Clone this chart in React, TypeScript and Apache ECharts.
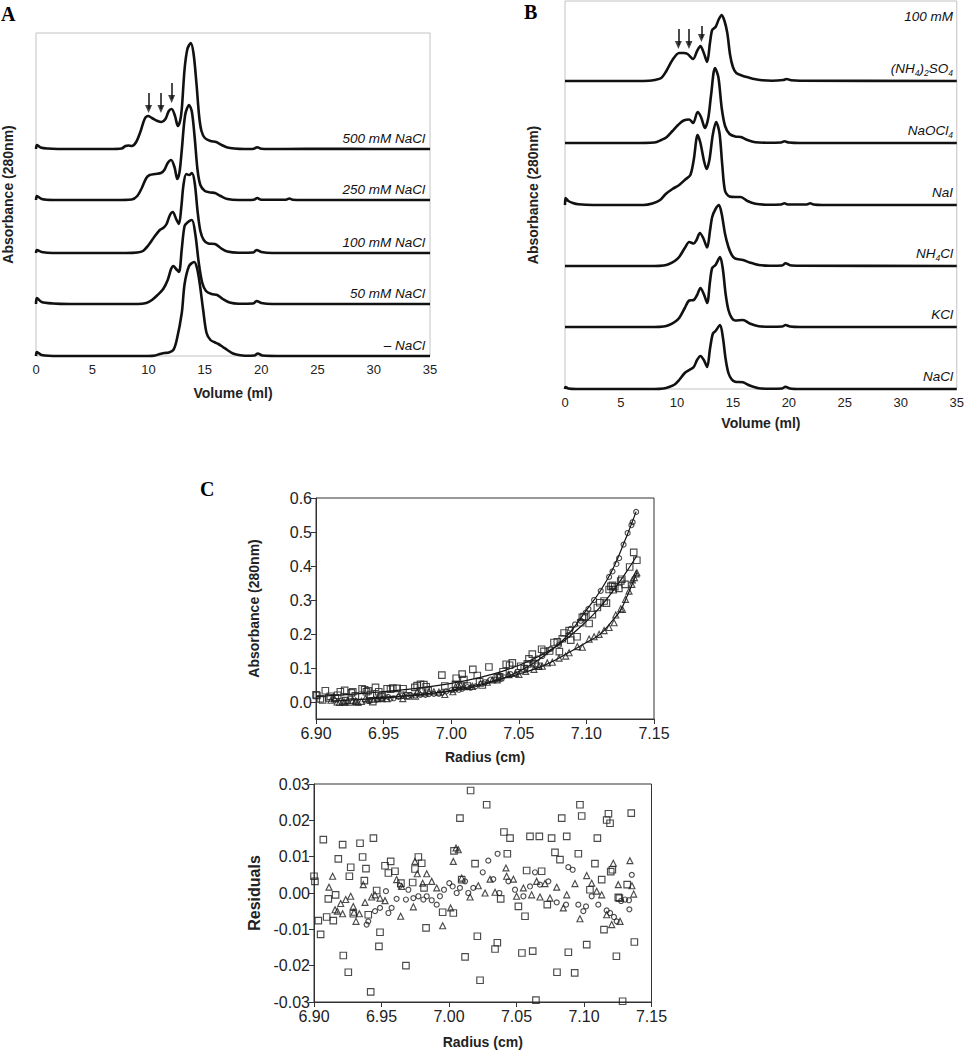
import React, { useEffect, useRef } from 'react';
import * as echarts from 'echarts';

const FONT = '"Liberation Sans", Arial, Helvetica, sans-serif';
const SERIF = '"Liberation Serif", "Times New Roman", serif';

// ---------- Panel A: SEC traces (absorbance, arbitrary units) ----------
const A_LABELS = ['500 mM NaCl', '250 mM NaCl', '100 mM NaCl', '50 mM NaCl', '– NaCl'];
const A_OFFSETS = [207, 156, 103, 52, 0];
const A_500 = [[0,0],[0.08,4],[0.4,1.5],[1,0.5],[3,0],[6.5,0],[7.6,0.5],[7.95,3],[8.2,3.5],[8.5,3],[8.9,7],[9.3,18],[9.65,30],[9.95,33],[10.3,31],[10.8,28],[11.15,27],[11.5,30],[11.8,38],[12.05,40],[12.35,33],[12.6,23],[12.8,28],[12.95,40],[13.2,80],[13.45,100],[13.75,106],[14.0,95],[14.25,66],[14.5,32],[14.7,18],[15.0,11],[15.5,8],[16.0,7],[16.5,4],[17.0,1.5],[17.6,0.5],[18.5,0],[19.35,0.3],[19.65,1.8],[20.0,0.3],[22,0],[26,0.3],[30,0],[35,0]];
const A_250 = [[0,0],[0.08,4],[0.5,1],[1.5,0],[7,0],[8.5,0.5],[9.0,4],[9.4,12],[9.8,22],[10.1,25],[10.6,26],[11.1,27],[11.4,30],[11.7,37],[12.0,40],[12.3,33],[12.55,21],[12.75,28],[12.95,50],[13.25,85],[13.6,95],[13.85,88],[14.1,62],[14.35,30],[14.6,15],[15.0,9],[15.5,7.5],[15.9,7],[16.4,4],[17.0,1],[18,0],[19.35,0.3],[19.65,2],[20.0,0.3],[22.2,0.3],[22.5,1.5],[22.8,0.3],[25,0],[35,0]];
const A_100 = [[0,0],[0.08,3],[0.5,1],[1.5,0],[8,0],[9.0,0.5],[9.5,2],[10.0,8],[10.5,16],[11.0,23],[11.3,25],[11.6,29],[11.9,38],[12.15,41],[12.45,34],[12.7,29],[12.9,45],[13.1,68],[13.35,79],[13.6,78],[13.85,80],[14.1,70],[14.35,42],[14.6,22],[14.9,13],[15.3,9.5],[15.9,9],[16.4,5],[17.0,1.5],[18,0.3],[19.3,0.5],[19.6,3],[20.0,1],[21,0],[35,0]];
const A_50 = [[0,0],[0.08,6],[0.5,2],[1.5,0.5],[3,0],[9,0],[9.8,1],[10.3,4],[10.8,9],[11.3,15],[11.7,24],[12.0,35],[12.2,38],[12.45,35],[12.7,32],[12.95,55],[13.2,78],[13.5,82],[13.85,84],[14.15,70],[14.45,42],[14.75,22],[15.1,13],[15.6,10],[16.1,9],[16.6,5],[17.2,1.5],[18,0.3],[19.3,0.5],[19.6,3],[20,1],[21,0],[35,0]];
const A_NONE = [[0,0],[0.08,4],[0.5,1],[2,0],[10,0],[10.6,0.5],[11.0,2],[11.4,3],[11.8,3.5],[12.2,6],[12.5,16],[12.95,43],[13.2,72],[13.6,90],[14.05,94],[14.3,88],[14.55,72],[14.85,46],[15.15,23],[15.5,16],[15.9,13.5],[16.2,12],[16.6,9],[17.0,6],[17.5,2.5],[18.0,1],[18.6,0.3],[19.4,0.5],[19.7,2.5],[20.1,0.5],[22,0],[35,0]];
const A_TRACES = [A_500, A_250, A_100, A_50, A_NONE];
const A_ARROWS = [[10.0, 263, 247], [11.1, 263, 247], [12.05, 273, 257]];

// ---------- Panel B ----------
const B_LABELS = ['{t|(NH}{s|4}{t|)}{s|2}{t|SO}{s|4}', '{t|NaOCl}{s|4}', '{t|NaI}', '{t|NH}{s|4}{t|Cl}', '{t|KCl}', '{t|NaCl}'];
const B_OFFSETS = [308, 246, 184, 123, 62, 0];
const B_NH42SO4 = [[0,0],[5,0],[7.5,0.3],[8.0,1],[8.6,3],[9.0,9],[9.6,21],[10.2,28],[10.6,28],[10.95,27],[11.45,22],[11.8,30],[12.1,35],[12.4,28],[12.7,19],[12.95,38],[13.15,51],[13.45,54],[13.75,62],[14.0,66],[14.25,60],[14.5,48],[14.75,26],[15.0,14],[15.3,8],[15.9,5],[16.4,3.5],[16.9,2],[17.6,0.8],[18.5,0.3],[19.5,1],[19.8,2],[20.2,0.8],[21,0.3],[35,0]];
const B_NAOCL4 = [[0,0],[6,0],[8.0,0.5],[8.6,3],[9.1,6],[9.6,12],[10.1,18],[10.6,22.5],[11.1,23.5],[11.45,20],[11.85,31],[12.15,26],[12.5,15],[12.8,25],[13.05,48],[13.4,75],[13.7,66],[14.0,35],[14.3,17],[14.7,9],[15.2,6.5],[15.7,6],[16.3,3],[17.0,0.8],[18,0.3],[19.3,0.5],[19.6,1.7],[20,0.5],[21,0],[35,0]];
const B_NAI = [[0,0],[0.05,7],[0.3,4],[0.7,2],[1.2,0.7],[2.5,0],[7,0],[7.8,1.5],[8.5,5],[9.0,11],[9.6,16],[10.2,20],[10.8,26],[11.2,30],[11.5,45],[11.85,70],[12.1,62],[12.4,45],[12.65,36],[12.9,45],[13.2,70],[13.5,83],[13.8,72],[14.05,40],[14.3,14],[14.7,8.5],[15.2,8],[15.7,8],[16.3,4],[17.0,1.2],[18,0.3],[19.3,0.5],[19.6,1.7],[19.9,0.5],[21.6,0.5],[21.9,1.7],[22.2,0.5],[23,0],[35,0]];
const B_NH4CL = [[0,0],[8,0],[8.8,0.5],[9.3,2],[9.8,5],[10.2,9],[10.7,18],[11.1,24],[11.5,22.5],[11.75,26],[12.05,33],[12.35,28],[12.7,18.5],[12.95,35],[13.15,49],[13.45,57],[13.75,61],[14.0,52],[14.3,32],[14.6,19],[14.9,11],[15.2,7.5],[15.9,6],[16.5,3.5],[17.3,1],[18.3,0.3],[19.4,0.5],[19.7,2.7],[20.1,0.8],[21,0.3],[35,0]];
const B_KCL = [[0,0],[8,0],[8.8,0.5],[9.3,2],[9.8,5],[10.2,9],[10.7,19],[11.1,26.5],[11.5,27],[11.8,32],[12.1,39],[12.4,33],[12.7,24],[12.95,45],[13.15,59],[13.45,62],[13.85,70],[14.1,58],[14.35,33],[14.6,17],[14.9,9],[15.2,6.5],[15.9,7],[16.5,3.5],[17.3,0.8],[18.3,0.3],[19.4,0.5],[19.7,2],[20.1,0.5],[21,0],[35,0]];
const B_NACL = [[0,0],[0.05,2],[0.3,0.5],[1,0],[8,0],[8.8,0.5],[9.3,2],[9.8,4.5],[10.2,9],[10.7,16],[11.1,19],[11.5,22],[11.8,29],[12.1,33],[12.4,29],[12.7,22],[12.95,40],[13.2,55],[13.45,58],[13.85,64],[14.1,52],[14.35,30],[14.6,16],[14.9,9.5],[15.2,7.3],[15.9,6.7],[16.5,3.5],[17.3,0.8],[18.3,0.3],[19.4,0.5],[19.7,2.3],[20.1,0.5],[21,0],[35,0]];
const B_TRACES = [B_NH42SO4, B_NAOCL4, B_NAI, B_NH4CL, B_KCL, B_NACL];
const B_ARROWS = [[10.13, 360, 344], [11.07, 360, 344], [12.19, 363, 351]];

// ---------- Panel C: sedimentation equilibrium ----------
const C_TOP_TICKS = [0, 0.1, 0.2, 0.3, 0.4, 0.5, 0.6];
const TOP_CIRCLES = [[6.939,0.003],[6.9402,0.004],[6.9452,0.008],[6.9489,0.010],[6.9533,0.015],[6.9551,0.010],[6.9575,0.011],[6.9612,0.015],[6.9637,0.019],[6.9681,0.017],[6.9699,0.020],[6.9736,0.019],[6.9773,0.021],[6.981,0.021],[6.9835,0.023],[6.9872,0.024],[6.9909,0.024],[6.9933,0.028],[6.9963,0.031],[7.0002,0.035],[7.0027,0.036],[7.0057,0.036],[7.0081,0.039],[7.0119,0.044],[7.0143,0.042],[7.018,0.046],[7.025,0.058],[7.0291,0.066],[7.0328,0.066],[7.036,0.077],[7.0373,0.068],[7.044,0.082],[7.0489,0.089],[7.0551,0.100],[7.06,0.114],[7.0637,0.128],[7.0674,0.135],[7.0736,0.156],[7.0798,0.168],[7.0867,0.197],[7.0884,0.215],[7.0916,0.228],[7.0958,0.239],[7.0995,0.263],[7.1015,0.274],[7.1057,0.300],[7.1106,0.327],[7.1168,0.368],[7.1193,0.384],[7.1222,0.406],[7.1242,0.423],[7.1275,0.463],[7.1305,0.497],[7.1333,0.520],[7.1342,0.529],[7.1368,0.559]];
const TOP_SQUARES = [[6.9000,0.021],[6.9007,0.019],[6.9069,0.033],[6.9032,0.009],[6.9049,0.006],[6.9094,0.012],[6.9106,0.017],[6.9143,0.012],[6.9160,0.020],[6.9180,0.030],[6.9212,0.034],[6.9217,0.004],[6.9254,0.000],[6.9272,0.030],[6.9262,0.027],[6.9291,0.018],[6.9341,0.039],[6.9360,0.036],[6.9385,0.033],[6.9373,0.030],[6.9402,0.022],[6.9420,0.001],[6.9440,0.043],[6.9464,0.030],[6.9489,0.019],[6.9481,0.015],[6.9526,0.039],[6.9568,0.041],[6.9551,0.038],[6.9600,0.040],[6.9644,0.039],[6.9681,0.018],[6.9731,0.043],[6.9748,0.048],[6.9773,0.052],[6.9798,0.051],[6.9815,0.045],[6.9830,0.034],[6.9931,0.079],[6.9953,0.047],[7.0032,0.052],[7.0037,0.070],[7.0081,0.082],[7.0094,0.066],[7.0119,0.047],[7.0160,0.096],[7.0193,0.078],[7.0210,0.060],[7.0230,0.050],[7.0279,0.103],[7.0341,0.071],[7.0358,0.074],[7.0383,0.089],[7.0407,0.111],[7.0432,0.108],[7.0452,0.115],[7.0514,0.105],[7.0540,0.098],[7.0563,0.112],[7.0575,0.127],[7.0600,0.141],[7.0620,0.113],[7.0644,0.105],[7.0669,0.155],[7.0686,0.149],[7.0728,0.150],[7.0760,0.175],[7.0785,0.177],[7.0800,0.148],[7.0822,0.186],[7.0835,0.203],[7.0872,0.210],[7.0884,0.182],[7.0931,0.192],[7.0958,0.233],[7.0970,0.249],[7.0983,0.251],[7.1020,0.231],[7.1044,0.257],[7.1081,0.278],[7.1099,0.292],[7.1131,0.297],[7.1148,0.291],[7.1168,0.331],[7.1181,0.340],[7.1193,0.343],[7.1198,0.330],[7.1210,0.339],[7.1240,0.334],[7.1254,0.356],[7.1262,0.361],[7.1286,0.346],[7.1320,0.397],[7.1350,0.440],[7.1373,0.417]];
const TOP_TRIANGLES = [[6.9111,0.005],[6.9138,0.009],[6.9156,0.000],[6.9173,-0.001],[6.9198,0.002],[6.9212,-0.001],[6.9235,0.004],[6.9272,0.005],[6.9291,0.003],[6.9296,0.002],[6.9311,-0.001],[6.9336,0.002],[6.9365,0.010],[6.9378,0.006],[6.9427,0.008],[6.9452,0.010],[6.9489,0.010],[6.9526,0.010],[6.9612,0.019],[6.9642,0.010],[6.9649,0.019],[6.9736,0.017],[6.9748,0.030],[6.9765,0.027],[6.9805,0.027],[6.9835,0.030],[6.9872,0.030],[6.9909,0.029],[6.9953,0.022],[7.0012,0.030],[7.0032,0.045],[7.0052,0.050],[7.0069,0.051],[7.0094,0.045],[7.0156,0.046],[7.0217,0.055],[7.0267,0.058],[7.0304,0.065],[7.0341,0.065],[7.0422,0.081],[7.0427,0.080],[7.0477,0.084],[7.0501,0.081],[7.0551,0.090],[7.0612,0.096],[7.0649,0.105],[7.0674,0.105],[7.0711,0.115],[7.0748,0.117],[7.0798,0.129],[7.0847,0.135],[7.0872,0.145],[7.0933,0.163],[7.0970,0.161],[7.1020,0.185],[7.1057,0.192],[7.1094,0.199],[7.1131,0.210],[7.1168,0.219],[7.1205,0.233],[7.1217,0.256],[7.1254,0.274],[7.1267,0.272],[7.1289,0.302],[7.1315,0.326],[7.1336,0.346],[7.1340,0.359],[7.1355,0.366],[7.1368,0.377],[7.1373,0.380]];
const FIT_CIRCLES = [[6.939,0.012],[6.96,0.016],[6.98,0.023],[7.00,0.032],[7.02,0.047],[7.04,0.072],[7.06,0.112],[7.08,0.172],[7.09,0.215],[7.10,0.270],[7.11,0.325],[7.12,0.395],[7.13,0.490],[7.1368,0.560]];
const FIT_SQUARES = [[6.90,0.016],[6.92,0.021],[6.94,0.027],[6.96,0.034],[6.98,0.043],[7.00,0.055],[7.02,0.071],[7.04,0.093],[7.06,0.125],[7.08,0.170],[7.10,0.237],[7.11,0.278],[7.12,0.328],[7.13,0.385],[7.1373,0.430]];
const FIT_TRIANGLES = [[6.911,0.003],[6.93,0.007],[6.95,0.0115],[6.97,0.019],[6.99,0.028],[7.01,0.042],[7.03,0.061],[7.05,0.082],[7.07,0.110],[7.09,0.152],[7.10,0.175],[7.11,0.199],[7.12,0.243],[7.125,0.268],[7.13,0.310],[7.1373,0.380]];

const RES_SQUARES = [[6.9000,0.0046],[6.9007,0.0032],[6.9069,0.0147],[6.9032,-0.0076],[6.9049,-0.0114],[6.9094,-0.0066],[6.9106,-0.0016],[6.9143,-0.0076],[6.9160,-0.0005],[6.9180,0.0094],[6.9212,0.0133],[6.9217,-0.0172],[6.9254,-0.0218],[6.9272,0.0071],[6.9262,0.0046],[6.9291,-0.0057],[6.9341,0.0137],[6.9360,0.0099],[6.9385,0.0067],[6.9373,0.0034],[6.9402,-0.0060],[6.9420,-0.0272],[6.9440,0.0151],[6.9464,0.0007],[6.9489,-0.0108],[6.9481,-0.0147],[6.9526,0.0075],[6.9568,0.0087],[6.9551,0.0055],[6.9600,0.0060],[6.9644,0.0027],[6.9681,-0.0200],[6.9731,0.0029],[6.9748,0.0066],[6.9773,0.0099],[6.9798,0.0082],[6.9815,0.0014],[6.9830,-0.0096],[6.9953,-0.0053],[7.0032,-0.0055],[7.0037,0.0116],[7.0081,0.0206],[7.0094,0.0037],[7.0119,-0.0176],[7.0160,0.0282],[7.0193,0.0081],[7.0210,-0.0119],[7.0230,-0.0240],[7.0279,0.0243],[7.0341,-0.0154],[7.0358,-0.0137],[7.0383,-0.0016],[7.0407,0.0168],[7.0432,0.0108],[7.0452,0.0151],[7.0514,-0.0037],[7.0540,-0.0165],[7.0563,-0.0064],[7.0575,0.0062],[7.0600,0.0156],[7.0620,-0.0160],[7.0644,-0.0295],[7.0669,0.0156],[7.0686,0.0060],[7.0728,-0.0032],[7.0760,0.0151],[7.0785,0.0112],[7.0800,-0.0218],[7.0822,0.0092],[7.0835,0.0206],[7.0872,0.0156],[7.0884,-0.0163],[7.0931,-0.0220],[7.0958,0.0108],[7.0970,0.0243],[7.0983,0.0212],[7.1020,-0.0142],[7.1044,0.0009],[7.1081,0.0081],[7.1099,0.0151],[7.1131,0.0037],[7.1148,-0.0101],[7.1168,0.0201],[7.1181,0.0218],[7.1193,0.0192],[7.1198,0.0059],[7.1210,0.0064],[7.1240,-0.0174],[7.1254,-0.0012],[7.1262,-0.0014],[7.1286,-0.0298],[7.1320,0.0023],[7.1350,0.0220],[7.1373,-0.0135]];
const RES_CIRCLES = [[6.939,-0.0087],[6.9402,-0.0078],[6.9452,-0.005],[6.9489,-0.0041],[6.9533,0.0005],[6.9551,-0.0055],[6.9575,-0.0041],[6.9612,-0.0016],[6.9637,0.002],[6.9681,-0.0018],[6.9699,0.0009],[6.9736,-0.0014],[6.9773,-0.0009],[6.981,-0.0018],[6.9835,-0.0009],[6.9872,-0.002],[6.9909,-0.0032],[6.9933,-0.0009],[6.9963,0.0009],[7.0002,0.0027],[7.0027,0.0018],[7.0057,0.0],[7.0081,0.0014],[7.0119,0.0032],[7.0143,0.0],[7.018,0.0014],[7.025,0.0057],[7.0291,0.0089],[7.0328,0.0038],[7.036,0.0108],[7.0373,0.0],[7.044,0.0032],[7.0489,0.0009],[7.0551,-0.0009],[7.06,0.0018],[7.0637,0.0057],[7.0674,0.0023],[7.0736,0.0032],[7.0798,-0.0026],[7.0867,-0.0032],[7.0884,0.0071],[7.0916,0.0064],[7.0958,-0.0032],[7.0995,-0.005],[7.1015,-0.0037],[7.1057,-0.0009],[7.1106,-0.0032],[7.1168,-0.0048],[7.1193,-0.0055],[7.1222,-0.0066],[7.1242,-0.0078],[7.1275,-0.0022],[7.1305,-0.0018],[7.1333,-0.002],[7.1336,-0.0045],[7.1354,0.005]];
const RES_TRIANGLES = [[6.9111,0.0016],[6.9138,0.0046],[6.9156,-0.0046],[6.9173,-0.005],[6.9198,-0.0029],[6.9212,-0.0057],[6.9235,-0.0018],[6.9272,-0.0009],[6.9291,-0.0037],[6.9296,-0.0053],[6.9311,-0.0078],[6.9336,-0.0057],[6.9365,0.0023],[6.9378,-0.0026],[6.9427,-0.0011],[6.9452,-0.0005],[6.9489,-0.0014],[6.9526,-0.0021],[6.9612,0.0037],[6.9642,-0.0064],[6.9649,0.0018],[6.9736,-0.0038],[6.9748,0.0087],[6.9765,0.0053],[6.9805,0.0027],[6.9835,0.0053],[6.9872,0.0032],[6.9909,0.0014],[6.9953,-0.009],[7.0012,-0.0041],[7.0032,0.0087],[7.0052,0.0124],[7.0069,0.0119],[7.0094,0.0041],[7.0156,-0.0011],[7.0217,0.002],[7.0267,0.0],[7.0304,0.0038],[7.0341,0.0002],[7.0422,0.0069],[7.0427,0.0046],[7.0477,0.0038],[7.0501,-0.0009],[7.0551,0.0014],[7.0612,-0.0005],[7.0649,0.0032],[7.0674,-0.0011],[7.0711,0.0026],[7.0748,-0.0014],[7.0798,0.0016],[7.0847,-0.0041],[7.0872,-0.0005],[7.0933,0.0026],[7.0970,-0.0071],[7.1020,0.0048],[7.1057,0.0027],[7.1094,0.0005],[7.1131,-0.0005],[7.1168,-0.006],[7.1205,-0.0087],[7.1217,0.0082],[7.1254,0.0023],[7.1267,-0.0078],[7.134,0.0089],[7.1355,0.002],[7.1368,-0.0003]];

// ---------- layout ----------
const GA = { left: 36, top: 33, width: 394, height: 323 };
const GB = { left: 565, top: 1, width: 395, height: 388 };
const GC1 = { left: 316, top: 498, width: 338, height: 221 };
const GC2 = { left: 314, top: 784, width: 337.5, height: 218 };
const A_MAX = 323;
const B_MAX = 388;

function traceSeries(traces: number[][][], offsets: number[], axis: number, arrows: number[][]) {
  const out: any[] = traces.map((tr, i) => {
    const s: any = {
      type: 'line',
      xAxisIndex: axis,
      yAxisIndex: axis,
      data: tr.map((p) => [p[0], p[1] + offsets[i]]),
      showSymbol: false,
      symbol: 'none',
      smooth: 0.3,
      clip: false,
      silent: true,
      lineStyle: { color: '#111', width: 2.6 },
      z: 3,
    };
    if (i === 0) {
      s.markLine = {
        silent: true,
        animation: false,
        symbol: ['none', 'none'],
        label: { show: false },
        lineStyle: { color: '#111', width: 1.5, type: 'solid' },
        emphasis: { disabled: true },
        data: arrows.map(([v, y1, y2]) => [{ coord: [v, y1] }, { coord: [v, y2] }]),
      };
    }
    return s;
  });
  // arrow heads
  out.push({
    type: 'scatter',
    xAxisIndex: axis,
    yAxisIndex: axis,
    data: arrows.map(([v, , y2]) => [v, y2]),
    symbol: 'triangle',
    symbolRotate: 180,
    symbolSize: [7, 8],
    symbolOffset: [0, 0],
    silent: true,
    clip: false,
    itemStyle: { color: '#111' },
    z: 5,
  });
  return out;
}

function scatter(data: number[][], axis: number, symbol: string, size: number) {
  return {
    type: 'scatter',
    xAxisIndex: axis,
    yAxisIndex: axis,
    data,
    symbol,
    symbolSize: size,
    silent: true,
    itemStyle: { color: 'rgba(255,255,255,0)', borderColor: '#1e1e1e', borderWidth: 1.15 },
    z: 4,
  };
}

function fitLine(data: number[][]) {
  return {
    type: 'line',
    xAxisIndex: 2,
    yAxisIndex: 2,
    data,
    smooth: 0.4,
    showSymbol: false,
    symbol: 'none',
    silent: true,
    lineStyle: { color: '#111', width: 1.2 },
    z: 3,
  };
}

function volAxis(gridIndex: number, nameGap: number) {
  return {
    type: 'value', gridIndex, min: 0, max: 35, interval: 5,
    axisLine: { show: false, onZero: false }, axisTick: { show: false }, splitLine: { show: false },
    axisLabel: { fontSize: 13, color: '#222', margin: 7, fontFamily: FONT },
    name: 'Volume (ml)', nameLocation: 'middle', nameGap,
    nameTextStyle: { fontWeight: 'bold', fontSize: 14, color: '#222', fontFamily: FONT },
  };
}

function absAxisHidden(gridIndex: number, max: number, nameGap: number) {
  return {
    type: 'value', gridIndex, min: 0, max,
    axisLine: { show: false, onZero: false }, axisTick: { show: false }, axisLabel: { show: false }, splitLine: { show: false },
    name: 'Absorbance (280nm)', nameLocation: 'middle', nameGap,
    nameTextStyle: { fontWeight: 'bold', fontSize: 14, color: '#222', fontFamily: FONT },
  };
}

const cAxisLine = { show: true, onZero: false, lineStyle: { color: '#333', width: 1 } };
const cTick = { show: true, length: 5, inside: false, lineStyle: { color: '#333', width: 1 } };

function radiusAxis(gridIndex: number, nameGap: number) {
  return {
    type: 'value', gridIndex, min: 6.9, max: 7.15, interval: 0.05,
    axisLine: cAxisLine, axisTick: cTick, splitLine: { show: false },
    axisLabel: { fontSize: 16, color: '#222', margin: 6, fontFamily: FONT, formatter: (v: number) => v.toFixed(2) },
    name: 'Radius (cm)', nameLocation: 'middle', nameGap,
    nameTextStyle: { fontWeight: 'bold', fontSize: 14, color: '#222', fontFamily: FONT },
  };
}

function buildOption() {
  const graphics: any[] = [];
  const letter = (t: string, x: number, y: number) => ({
    type: 'text', x, y, silent: true,
    style: { text: t, fill: '#000', fontFamily: SERIF, fontWeight: 'bold', fontSize: 20, align: 'left', verticalAlign: 'middle' },
  });
  graphics.push(letter('A', 1, 14), letter('B', 524, 12), letter('C', 200, 489));

  A_LABELS.forEach((lab, i) => {
    graphics.push({
      type: 'text', x: GA.left + GA.width - 5, y: GA.top + (A_MAX - A_OFFSETS[i]) - 10.5, silent: true,
      style: { text: lab, fill: '#111', fontFamily: FONT, fontStyle: 'italic', fontSize: 13.5, align: 'right', verticalAlign: 'middle' },
    });
  });
  graphics.push({
    type: 'text', x: GB.left + GB.width - 7, y: 16, silent: true,
    style: { text: '100 mM', fill: '#111', fontFamily: FONT, fontStyle: 'italic', fontSize: 13.5, align: 'right', verticalAlign: 'middle' },
  });
  B_LABELS.forEach((lab, i) => {
    graphics.push({
      type: 'text', x: GB.left + GB.width - 7, y: GB.top + (B_MAX - B_OFFSETS[i]) - 12.5, silent: true,
      style: {
        text: lab, fill: '#111', fontFamily: FONT, fontStyle: 'italic', fontSize: 13.5, align: 'right', verticalAlign: 'middle',
        rich: {
          t: { fontFamily: FONT, fontStyle: 'italic', fontSize: 13.5, lineHeight: 17, fill: '#111', verticalAlign: 'middle' },
          s: { fontFamily: FONT, fontStyle: 'italic', fontSize: 8.5, lineHeight: 9, fill: '#111', verticalAlign: 'bottom' },
        },
      },
    });
  });

  return {
    animation: false,
    backgroundColor: '#fff',
    textStyle: { fontFamily: FONT },
    grid: [
      { ...GA, show: true, borderColor: '#c2c2c2', borderWidth: 1, backgroundColor: 'transparent', containLabel: false },
      { ...GB, show: true, borderColor: '#c2c2c2', borderWidth: 1, backgroundColor: 'transparent', containLabel: false },
      { ...GC1, show: true, borderColor: '#333', borderWidth: 1, backgroundColor: 'transparent', containLabel: false },
      { ...GC2, show: true, borderColor: '#333', borderWidth: 1, backgroundColor: 'transparent', containLabel: false },
    ],
    xAxis: [volAxis(0, 30), volAxis(1, 27), radiusAxis(2, 31), radiusAxis(3, 33)],
    yAxis: [
      absAxisHidden(0, A_MAX, 21),
      absAxisHidden(1, B_MAX, 25),
      {
        type: 'value', gridIndex: 2, min: -0.05, max: 0.6,
        axisLine: cAxisLine,
        axisTick: { ...cTick, customValues: C_TOP_TICKS },
        splitLine: { show: false },
        axisLabel: {
          customValues: C_TOP_TICKS, fontSize: 16, color: '#222', margin: 4, fontFamily: FONT,
          formatter: (v: number) => (v < -0.01 ? '' : v.toFixed(1)),
        },
        name: 'Absorbance (280nm)', nameLocation: 'middle', nameGap: 55,
        nameTextStyle: { fontWeight: 'bold', fontSize: 14, color: '#222', fontFamily: FONT },
      },
      {
        type: 'value', gridIndex: 3, min: -0.03, max: 0.03, interval: 0.01,
        axisLine: cAxisLine, axisTick: cTick, splitLine: { show: false },
        axisLabel: {
          fontSize: 16, color: '#222', margin: 4, fontFamily: FONT,
          formatter: (v: number) => (Math.abs(v) < 1e-9 ? '0.00' : v.toFixed(2)),
        },
        name: 'Residuals', nameLocation: 'middle', nameGap: 52,
        nameTextStyle: { fontWeight: 'bold', fontSize: 16, color: '#222', fontFamily: FONT },
      },
    ],
    series: [
      ...traceSeries(A_TRACES, A_OFFSETS, 0, A_ARROWS),
      ...traceSeries(B_TRACES, B_OFFSETS, 1, B_ARROWS),
      fitLine(FIT_SQUARES),
      fitLine(FIT_CIRCLES),
      fitLine(FIT_TRIANGLES),
      scatter(TOP_SQUARES, 2, 'rect', 6.5),
      scatter(TOP_CIRCLES, 2, 'circle', 5),
      scatter(TOP_TRIANGLES, 2, 'triangle', 6),
      scatter(RES_SQUARES, 3, 'rect', 6.5),
      scatter(RES_CIRCLES, 3, 'circle', 5),
      scatter(RES_TRIANGLES, 3, 'triangle', 6),
    ],
    graphic: graphics,
  };
}

export default function App() {
  const ref = useRef<HTMLDivElement>(null);
  useEffect(() => {
    if (!ref.current) return;
    const chart = echarts.init(ref.current, undefined, { renderer: 'svg' });
    chart.setOption(buildOption() as any);
    return () => chart.dispose();
  }, []);
  return (
    <div
      ref={ref}
      style={{ position: 'absolute', left: 0, top: 0, width: 967, height: 1050, background: '#fff' }}
    />
  );
}
